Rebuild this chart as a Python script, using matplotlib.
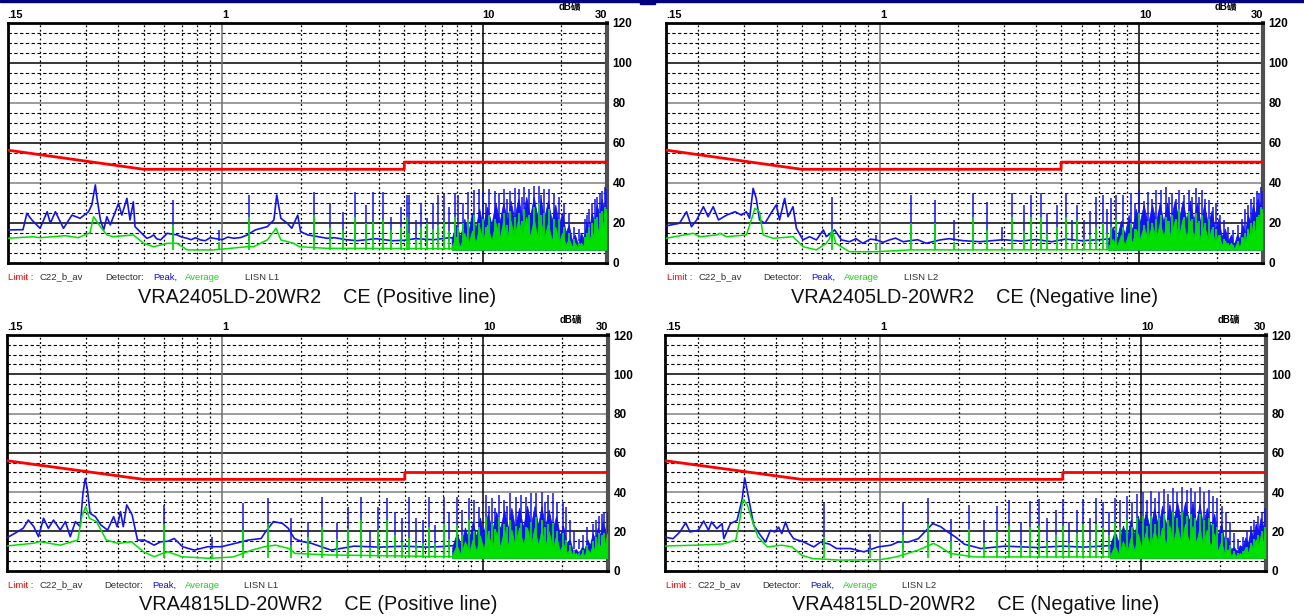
import matplotlib
matplotlib.use("Agg")
import matplotlib.pyplot as plt
from matplotlib.patches import Rectangle

# ---------------- data (MHz / dBuV) ----------------
lim1_f = [0.15, 0.5, 5.0, 5.0, 30.0]
lim1_db = [56.3, 46.7, 46.7, 50.3, 50.3]
lim3_db = [56.0, 46.5, 46.5, 50.0, 50.0]

# frequency grid of the dense part above ~7.5 MHz (envelope readings)
dense_f = [7.6, 7.9, 8.2, 8.5, 8.8, 9.1, 9.4, 9.7, 10.0, 10.4,
           10.8, 11.2, 11.6, 12.0, 12.4, 12.8, 13.2, 13.7, 14.2, 14.7,
           15.2, 15.7, 16.2, 16.7, 17.2, 17.8, 18.4, 19.0, 19.6, 20.2,
           20.8, 21.4, 22.0, 22.6, 23.2, 23.8, 24.4, 25.0, 25.6, 26.2,
           26.8, 27.4, 28.0, 28.6, 29.2, 29.8]

# panel 1: VRA2405LD-20WR2, L1
p1_pk_f = [0.15, 0.172, 0.178, 0.186, 0.200, 0.213, 0.219, 0.229, 0.246, 0.265,
           0.285, 0.307, 0.316, 0.326, 0.331, 0.341, 0.351, 0.361, 0.372, 0.389,
           0.400, 0.412, 0.431, 0.443, 0.456, 0.463, 0.484, 0.514, 0.53, 0.546,
           0.56, 0.580, 0.615, 0.671, 0.70, 0.734, 0.76, 0.79, 0.825, 0.86,
           0.90, 0.928, 1.0, 1.05, 1.11, 1.18, 1.25, 1.34, 1.49, 1.58,
           1.62, 1.68, 1.78, 1.85, 1.95, 2.00, 2.13, 2.53, 2.7, 3.0,
           3.3, 3.9, 4.5, 5.0, 5.5, 6.5, 7.5, 8.0]
p1_pk_db = [16.4, 16.5, 24.7, 21.4, 17.2, 25.5, 19.7, 25.5, 17.2, 23.8,
            22.2, 25.5, 28.9, 38.9, 32.0, 21.4, 16.4, 23.0, 18.9, 25.5,
            29.7, 23.8, 32.2, 21.4, 30.5, 18.0, 15.5, 12.2, 12.8, 13.9,
            12.0, 11.4, 14.7, 13.9, 12.8, 12.2, 11.5, 12.5, 11.4, 11.0,
            12.5, 12.2, 11.5, 12.8, 12.2, 12.6, 13.9, 16.4, 18.0, 21.4,
            33.9, 22.2, 19.7, 17.2, 23.8, 15.5, 13.9, 12.2, 12.5, 11.5,
            11.0, 12.0, 11.0, 11.2, 12.0, 11.5, 12.5, 12.0]
p1_av_f = [0.15, 0.188, 0.2, 0.25, 0.28, 0.311, 0.321, 0.341, 0.361, 0.382,
           0.456, 0.499, 0.546, 0.615, 0.671, 0.734, 0.928, 1.25, 1.32, 1.49,
           1.61, 1.68, 1.88, 1.98, 2.5, 8.0]
p1_av_db = [12.2, 13.0, 12.5, 13.5, 12.5, 15.0, 23.0, 18.0, 13.9, 13.0,
            13.9, 9.7, 8.0, 9.7, 9.7, 6.4, 6.4, 8.0, 8.0, 11.4,
            17.2, 11.4, 9.7, 8.0, 7.2, 7.0]
p1_sp_f = [0.646, 0.972, 1.27, 2.25, 2.59, 2.90, 3.24, 3.56, 3.78, 4.16,
           4.44, 4.85, 5.11, 5.22, 5.54, 5.79, 6.11, 6.43, 6.71, 7.12,
           7.44, 7.80, 8.03, 8.42, 8.76, 9.3, 9.7, 10.0, 10.3, 10.6,
           11.1, 11.6, 12.1, 12.4, 12.7, 13.3, 13.8, 14.1, 14.4, 15.1,
           15.8, 16.5, 16.8, 17.2, 18.0, 18.8, 19.7, 20.6, 21.5, 22.5,
           23.5, 24.6, 25.2, 25.7, 26.3, 26.9, 27.5, 28.1, 28.7, 29.4, 29.8]
p1_sp_pk = [31.4, 16.4, 33.9, 35.5, 29.7, 25.5, 35.5, 28.9, 35.5, 35.5,
            23.0, 28.0, 33.9, 33.9, 21.4, 29.7, 22.2, 30.0, 33.9, 34.7,
            28.0, 34.7, 33.9, 30.0, 35.5, 36.4, 37.0, 36.0, 30.0, 37.0,
            36.0, 35.0, 37.0, 32.0, 36.0, 37.5, 37.0, 33.0, 38.0, 37.0,
            38.5, 38.5, 34.0, 37.0, 37.0, 35.0, 33.0, 30.0, 25.0, 18.0,
            17.0, 22.0, 24.0, 27.0, 30.0, 32.0, 33.0, 35.0, 36.0, 38.0, 37.0]
p1_sp_av = [18.9, 10.5, 23.0, 23.8, 17.2, 16.4, 23.0, 19.7, 20.5, 21.4,
            16.4, 18.0, 23.0, 15.0, 12.0, 18.0, 20.0, 17.0, 18.9, 20.5,
            16.0, 23.0, 18.0, 20.0, 22.0, 24.0, 20.0, 22.0, 18.0, 24.0,
            22.0, 20.0, 25.0, 19.0, 26.0, 23.0, 25.0, 21.0, 27.0, 24.0,
            28.0, 30.0, 24.0, 25.0, 27.0, 22.0, 22.0, 18.0, 15.0, 12.0,
            10.0, 13.0, 15.0, 18.0, 20.0, 22.0, 23.0, 25.0, 26.0, 28.0, 27.0]
p1_band_pk = [12, 19, 13, 22, 15, 25, 17, 27, 18, 28,
              19, 30, 20, 30, 21, 31, 22, 32, 22, 33,
              23, 33, 23, 32, 22, 31, 21, 29, 19, 25,
              15, 19, 11, 14, 9, 15, 12, 20, 16, 25,
              20, 29, 24, 32, 27, 35]
p1_band_av = [8, 13, 8, 15, 9, 16, 10, 18, 11, 19,
              11, 20, 12, 21, 12, 21, 13, 22, 13, 23,
              13, 22, 13, 21, 12, 20, 11, 18, 10, 15,
              9, 12, 8, 10, 7, 10, 8, 13, 10, 16,
              12, 19, 14, 22, 17, 25]

# panel 2: VRA2405LD-20WR2, L2
p2_pk_f = [0.15, 0.169, 0.180, 0.188, 0.197, 0.209, 0.218, 0.228, 0.239, 0.257,
           0.277, 0.293, 0.306, 0.315, 0.325, 0.334, 0.344, 0.361, 0.377, 0.399,
           0.411, 0.430, 0.443, 0.463, 0.477, 0.506, 0.536, 0.570, 0.606, 0.622,
           0.670, 0.712, 0.764, 0.81, 0.860, 0.92, 0.970, 1.03, 1.09, 1.15,
           1.23, 1.40, 1.51, 1.71, 1.85, 2.1, 2.43, 3.0, 3.5, 4.0,
           4.6, 5.2, 6.0, 7.0, 8.0]
p2_pk_db = [18.4, 19.7, 25.5, 18.0, 21.4, 28.0, 23.0, 28.0, 21.4, 23.8,
            25.5, 23.8, 25.5, 22.2, 37.2, 32.2, 21.4, 19.7, 23.8, 28.9,
            21.4, 32.2, 23.0, 28.0, 17.2, 11.4, 13.0, 11.4, 16.4, 13.0,
            16.4, 11.4, 10.5, 12.0, 9.7, 11.8, 11.4, 10.2, 11.4, 12.3,
            10.5, 11.5, 9.7, 11.4, 12.0, 11.0, 10.5, 11.5, 10.8, 11.6,
            10.5, 11.8, 11.0, 11.5, 12.0]
p2_av_f = [0.15, 0.191, 0.203, 0.235, 0.242, 0.257, 0.306, 0.320, 0.330, 0.344,
           0.355, 0.388, 0.463, 0.506, 0.570, 0.622, 0.64, 0.655, 0.677, 0.764,
           0.970, 1.31, 2.4, 8.0]
p2_av_db = [12.2, 14.7, 13.0, 13.9, 14.7, 13.0, 13.9, 21.4, 27.2, 25.5,
            13.9, 12.2, 13.0, 8.0, 6.4, 9.7, 12.0, 16.4, 9.7, 5.5,
            5.5, 6.4, 6.4, 6.5]
p2_sp_f = [0.655, 0.97, 1.32, 1.63, 1.94, 2.29, 2.60, 2.95, 3.23, 3.59,
           3.83, 4.19, 4.43, 4.84, 5.20, 5.52, 5.78, 6.14, 6.47, 6.80,
           7.22, 7.50, 7.79, 8.15, 8.68, 9.27, 9.6, 10.0, 10.4, 10.8,
           11.2, 11.6, 12.1, 12.7, 13.0, 13.4, 13.8, 14.2, 14.9, 15.6,
           16.0, 16.5, 17.0, 17.5, 18.0, 18.6, 19.2, 19.7, 20.4, 21.2,
           22.0, 22.9, 24.1, 24.9, 25.6, 26.2, 26.9, 27.7, 28.5, 29.0, 29.4, 29.8]
p2_sp_pk = [33.0, 14.0, 33.9, 31.4, 21.4, 34.7, 30.5, 18.0, 34.7, 28.9,
            33.9, 34.7, 24.7, 28.9, 34.7, 21.4, 28.9, 21.4, 26.0, 33.0,
            33.9, 27.0, 32.2, 33.9, 34.0, 34.7, 30.0, 36.4, 31.0, 35.5,
            32.0, 36.4, 36.4, 38.0, 33.0, 34.7, 32.0, 36.4, 34.0, 36.4,
            33.0, 37.2, 33.0, 36.4, 32.0, 31.4, 28.0, 30.0, 24.0, 21.4,
            18.0, 16.4, 19.0, 22.0, 27.0, 29.0, 32.0, 33.0, 36.0, 35.0, 38.0, 36.0]
p2_sp_av = [16.4, 9.7, 19.7, 19.7, 10.5, 23.0, 16.4, 8.0, 23.0, 16.0,
            23.0, 23.0, 15.0, 18.0, 23.0, 10.0, 21.4, 12.0, 14.0, 18.0,
            20.0, 15.0, 18.0, 22.0, 18.0, 20.0, 17.0, 25.0, 19.0, 21.0,
            20.0, 22.0, 24.0, 23.0, 21.0, 24.0, 22.0, 27.0, 23.0, 26.0,
            22.0, 25.0, 21.0, 24.0, 20.0, 22.0, 18.0, 17.0, 14.0, 12.0,
            10.0, 9.0, 11.0, 13.0, 15.0, 17.0, 20.0, 21.0, 23.0, 24.0, 28.0, 27.0]
p2_band_pk = [11, 18, 12, 21, 14, 24, 16, 27, 19, 29,
              19, 29, 20, 30, 20, 30, 21, 31, 21, 31,
              21, 31, 21, 30, 20, 29, 19, 26, 16, 22,
              13, 17, 11, 14, 9, 14, 12, 19, 15, 24,
              20, 29, 24, 32, 28, 36]
p2_band_av = [8, 12, 8, 14, 9, 15, 10, 17, 11, 18,
              12, 19, 12, 20, 13, 21, 13, 21, 13, 22,
              13, 21, 13, 20, 12, 19, 11, 17, 10, 14,
              9, 11, 8, 10, 7, 10, 8, 13, 10, 16,
              12, 19, 15, 22, 18, 25]

# panel 3: VRA4815LD-20WR2, L1
p3_pk_f = [0.15, 0.161, 0.173, 0.181, 0.190, 0.198, 0.207, 0.216, 0.226, 0.240,
           0.251, 0.262, 0.274, 0.286, 0.293, 0.299, 0.305, 0.312, 0.327, 0.343,
           0.364, 0.384, 0.396, 0.408, 0.418, 0.431, 0.452, 0.474, 0.503, 0.549,
           0.581, 0.62, 0.655, 0.705, 0.782, 0.880, 0.991, 1.12, 1.26, 1.41,
           1.46, 1.57, 1.70, 1.79, 1.89, 2.0, 2.2, 2.61, 3.2, 4.0,
           5.0, 6.0, 7.0, 8.0]
p3_pk_db = [16.8, 19.1, 21.6, 25.8, 22.4, 17.3, 26.7, 21.6, 25.8, 20.7,
            25.0, 17.3, 25.0, 22.4, 39.4, 47.0, 41.0, 29.2, 27.5, 23.3,
            20.7, 27.5, 22.4, 30.1, 22.4, 33.5, 28.4, 15.6, 15.6, 13.0,
            14.7, 15.0, 16.4, 12.2, 10.5, 12.2, 12.2, 13.9, 15.6, 16.4,
            19.5, 25.0, 24.1, 21.6, 16.4, 15.0, 13.9, 10.5, 12.5, 12.0,
            12.5, 12.0, 12.3, 13.0]
p3_av_f = [0.15, 0.19, 0.20, 0.24, 0.28, 0.29, 0.30, 0.31, 0.33, 0.36,
           0.40, 0.45, 0.50, 0.55, 0.59, 0.62, 0.70, 0.90, 1.1, 1.3,
           1.45, 1.6, 1.8, 1.9, 2.6, 8.0]
p3_av_db = [12.6, 14.0, 14.8, 13.0, 15.6, 27.5, 32.6, 26.7, 25.0, 15.6,
            13.9, 14.7, 9.6, 7.1, 8.8, 9.6, 7.1, 6.3, 7.0, 10.5,
            12.2, 13.0, 11.3, 8.8, 8.0, 7.1]
p3_sp_f = [0.597, 0.914, 1.20, 1.50, 1.83, 2.13, 2.40, 2.74, 3.04, 3.40,
           3.68, 3.96, 4.26, 4.59, 4.88, 5.18, 5.51, 5.85, 6.19, 6.55,
           7.07, 7.37, 7.94, 8.3, 8.82, 9.23, 9.61, 10.2, 10.5, 10.8,
           11.1, 11.5, 12.0, 12.3, 12.7, 13.3, 13.9, 14.5, 15.2, 15.9,
           16.8, 17.2, 17.6, 18.4, 19.2, 20.1, 20.7, 21.5, 22.3, 23.2,
           24.0, 25.0, 26.2, 27.0, 27.8, 28.4, 29.0, 29.9]
p3_sp_pk = [33.5, 17.0, 34.3, 36.9, 26.7, 25.0, 37.7, 24.1, 32.6, 37.7,
            20.7, 32.6, 36.9, 30.1, 26.7, 37.7, 26.7, 26.0, 37.7, 23.3,
            37.7, 30.1, 37.7, 31.0, 36.9, 36.0, 32.6, 38.5, 33.0, 36.9,
            32.0, 38.5, 36.0, 33.0, 39.4, 37.7, 38.5, 37.7, 39.4, 39.4,
            40.3, 35.0, 38.5, 39.4, 35.0, 35.0, 32.6, 26.0, 20.0, 16.0,
            18.0, 22.0, 24.0, 26.0, 28.0, 29.0, 30.1, 30.1]
p3_sp_av = [24.0, 9.0, 20.7, 24.0, 13.0, 17.0, 22.4, 16.0, 21.0, 25.8,
            12.0, 20.7, 25.8, 18.0, 14.7, 16.4, 14.0, 14.0, 22.4, 14.0,
            24.0, 16.0, 23.3, 18.0, 25.8, 20.0, 22.0, 27.5, 20.0, 24.0,
            21.0, 27.5, 24.0, 22.0, 25.8, 23.0, 24.1, 22.0, 25.0, 27.5,
            25.8, 22.0, 24.0, 24.1, 20.0, 19.0, 15.6, 13.0, 10.0, 9.0,
            10.5, 13.0, 15.0, 17.0, 19.0, 18.0, 19.1, 18.4]
p3_band_pk = [12, 19, 13, 22, 15, 25, 17, 27, 19, 29,
              20, 30, 21, 31, 21, 32, 22, 32, 22, 33,
              23, 33, 23, 33, 22, 31, 21, 28, 18, 23,
              14, 16, 10, 11, 9, 12, 11, 16, 13, 19,
              16, 22, 18, 25, 20, 28]
p3_band_av = [8, 13, 8, 15, 9, 16, 10, 18, 11, 19,
              12, 20, 12, 21, 13, 21, 13, 22, 13, 22,
              13, 22, 13, 21, 12, 20, 11, 18, 10, 14,
              9, 11, 8, 9, 7, 9, 8, 11, 9, 13,
              10, 15, 12, 17, 13, 19]

# panel 4: VRA4815LD-20WR2, L2
p4_pk_f = [0.15, 0.161, 0.171, 0.180, 0.187, 0.201, 0.211, 0.220, 0.226, 0.237,
           0.248, 0.252, 0.267, 0.283, 0.296, 0.303, 0.310, 0.317, 0.328, 0.348,
           0.364, 0.380, 0.395, 0.408, 0.420, 0.434, 0.448, 0.466, 0.510, 0.557,
           0.591, 0.640, 0.680, 0.768, 0.866, 0.980, 1.10, 1.17, 1.28, 1.40,
           1.48, 1.59, 1.71, 1.80, 1.95, 2.10, 2.43, 3.0, 4.0, 5.0,
           6.0, 7.0, 8.0]
p4_pk_db = [17.1, 16.3, 19.7, 24.4, 19.7, 20.6, 25.3, 20.6, 24.8, 21.4,
            24.0, 16.3, 24.0, 25.6, 36.2, 47.2, 40.4, 33.6, 23.1, 18.0,
            14.6, 20.6, 19.7, 22.2, 18.9, 24.8, 19.7, 16.3, 14.6, 12.1,
            14.6, 13.5, 11.3, 11.3, 9.6, 12.1, 13.0, 14.6, 14.6, 16.3,
            19.7, 24.0, 22.3, 20.0, 17.0, 13.5, 11.3, 12.5, 11.8, 12.5,
            12.0, 12.5, 13.0]
p4_av_f = [0.15, 0.2, 0.25, 0.28, 0.29, 0.298, 0.31, 0.32, 0.34, 0.37,
           0.42, 0.46, 0.50, 0.55, 0.7, 1.0, 1.15, 1.4, 1.6, 1.7,
           1.85, 2.3, 8.0]
p4_av_db = [12.6, 13.0, 13.6, 15.6, 25.8, 36.2, 33.6, 27.5, 17.3, 12.1,
            13.0, 12.1, 7.9, 6.2, 5.4, 5.6, 7.0, 10.5, 13.9, 12.1,
            8.8, 7.0, 7.0]
p4_sp_f = [0.608, 0.914, 1.22, 1.53, 1.86, 2.18, 2.50, 2.80, 3.10, 3.45,
           3.75, 4.05, 4.35, 4.70, 5.00, 5.30, 5.65, 6.00, 6.35, 6.70,
           7.10, 7.50, 7.90, 8.3, 8.8, 9.2, 9.6, 10.1, 10.5, 10.9,
           11.3, 11.7, 12.2, 12.7, 13.2, 13.7, 14.3, 14.9, 15.5, 16.1,
           16.7, 17.4, 18.1, 18.8, 19.5, 20.3, 21.0, 21.8, 22.6, 23.5,
           24.4, 25.3, 26.2, 27.1, 28.0, 28.9, 29.7]
p4_sp_pk = [34.5, 18.9, 34.5, 37.1, 26.5, 33.6, 26.0, 33.0, 36.0, 25.0,
            35.5, 36.5, 27.0, 31.0, 36.5, 25.0, 31.0, 36.5, 27.0, 37.0,
            35.0, 30.0, 37.0, 36.0, 38.0, 35.0, 39.0, 40.0, 36.0, 40.5,
            37.0, 40.0, 41.5, 39.0, 42.0, 40.0, 42.5, 41.0, 42.0, 40.0,
            42.5, 40.0, 41.0, 38.0, 37.0, 33.0, 30.0, 25.0, 19.0, 16.0,
            17.0, 20.0, 23.0, 26.0, 28.0, 30.0, 32.0]
p4_sp_av = [17.0, 11.0, 18.0, 24.0, 15.0, 21.4, 14.0, 20.0, 23.0, 13.0,
            22.0, 23.0, 15.0, 18.0, 23.0, 14.0, 19.0, 24.0, 15.0, 24.0,
            22.0, 18.0, 25.0, 22.0, 26.0, 22.0, 27.0, 28.0, 23.0, 28.0,
            24.0, 27.0, 29.0, 26.0, 30.0, 27.0, 30.0, 28.0, 29.0, 27.0,
            29.0, 26.0, 27.0, 24.0, 22.0, 19.0, 16.0, 13.0, 10.0, 9.0,
            10.0, 12.0, 14.0, 16.0, 18.0, 20.0, 22.0]
p4_band_pk = [13, 20, 14, 23, 16, 26, 18, 28, 20, 30,
              21, 32, 22, 33, 23, 34, 24, 35, 25, 35,
              25, 35, 24, 34, 23, 32, 22, 29, 18, 24,
              15, 17, 11, 12, 10, 13, 12, 17, 14, 21,
              17, 24, 20, 27, 22, 30]
p4_band_av = [8, 13, 8, 15, 9, 17, 10, 19, 11, 20,
              12, 21, 13, 22, 13, 23, 14, 23, 14, 24,
              14, 23, 14, 22, 13, 21, 12, 19, 10, 15,
              9, 11, 8, 9, 7, 9, 8, 12, 9, 14,
              11, 16, 12, 18, 14, 20]

PK_FLOOR = 11.0
AV_FLOOR = 6.5

titles = ["VRA2405LD-20WR2    CE (Positive line)",
          "VRA2405LD-20WR2    CE (Negative line)",
          "VRA4815LD-20WR2    CE (Positive line)",
          "VRA4815LD-20WR2    CE (Negative line)"]
lisn = ["LISN L1", "LISN L2", "LISN L1", "LISN L2"]

W, H = 1304, 616
# pixel boxes: left, right, top, bottom
boxes = [(7.5, 607, 22.7, 262.7), (666, 1263, 22.7, 262.7),
         (7, 608, 335, 570.7), (665, 1266, 335, 570.7)]
cap_xy = [(317, 297), (975, 297), (318, 605), (976, 605)]

panels = [
    (p1_pk_f, p1_pk_db, p1_av_f, p1_av_db, p1_sp_f, p1_sp_pk, p1_sp_av,
     p1_band_pk, p1_band_av, lim1_db),
    (p2_pk_f, p2_pk_db, p2_av_f, p2_av_db, p2_sp_f, p2_sp_pk, p2_sp_av,
     p2_band_pk, p2_band_av, lim1_db),
    (p3_pk_f, p3_pk_db, p3_av_f, p3_av_db, p3_sp_f, p3_sp_pk, p3_sp_av,
     p3_band_pk, p3_band_av, lim3_db),
    (p4_pk_f, p4_pk_db, p4_av_f, p4_av_db, p4_sp_f, p4_sp_pk, p4_sp_av,
     p4_band_pk, p4_band_av, lim3_db),
]

BLUE = "#1414f0"
GREEN = "#00e000"
RED = "#ff0000"
minor_f = [0.2, 0.3, 0.4, 0.5, 0.6, 0.7, 0.8, 0.9, 2, 3, 4, 5, 6, 7, 8, 9, 20]

fig = plt.figure(figsize=(W / 100, H / 100), dpi=100)
fig.patches.append(Rectangle((0, 1 - 2.2 / H), 1, 2.2 / H, transform=fig.transFigure,
                             color="#000080", zorder=10))
fig.patches.append(Rectangle((640 / W, 1 - 4 / H), 15 / W, 4 / H, transform=fig.transFigure,
                             color="#000080", zorder=10))

for i, (pk_f, pk_db, av_f, av_db, sp_f, sp_pk, sp_av, b_pk, b_av, lim_db) in enumerate(panels):
    l, r, t, b = boxes[i]
    ax = fig.add_axes([l / W, 1 - b / H, (r - l) / W, (b - t) / H])
    ax.set_xscale("log")
    ax.set_xlim(0.15, 30)
    ax.set_ylim(0, 120)

    # grid
    for v in range(5, 120, 5):
        if v % 20:
            ax.axhline(v, color="black", lw=0.8, dashes=(3, 2.2), zorder=1)
        else:
            c = "#808080" if v in (40, 80) else "black"
            ax.axhline(v, color=c, lw=1.1, zorder=1)
    for f in minor_f:
        ax.axvline(f, color="black", lw=0.9, dashes=(1.5, 2), zorder=1)
    ax.axvline(1, color="#707070", lw=1.1, zorder=1)
    ax.axvline(10, color="black", lw=1.1, zorder=1)

    # peak detector (blue), then average detector (green) on top
    ax.fill_between(dense_f, AV_FLOOR, b_pk, color=BLUE, lw=0.6, zorder=2)
    ax.vlines(sp_f, PK_FLOOR, sp_pk, color=BLUE, lw=1.1, zorder=3)
    ax.plot(pk_f, pk_db, color=BLUE, lw=1.2, zorder=3)
    ax.fill_between(dense_f, AV_FLOOR, b_av, color=GREEN, lw=0.6, zorder=4)
    ax.vlines(sp_f, AV_FLOOR, sp_av, color=GREEN, lw=1.3, zorder=4)
    ax.plot(av_f, av_db, color=GREEN, lw=1.1, zorder=4)
    ax.plot(lim1_f, lim_db, color=RED, lw=2.0, zorder=5)

    # axes frame and labels
    for s in ("left", "top", "bottom"):
        ax.spines[s].set_linewidth(2.0)
        ax.spines[s].set_color("black")
    ax.spines["right"].set_linewidth(3.0)
    ax.spines["right"].set_color("#505050")
    ax.set_xticks([])
    ax.xaxis.set_minor_locator(matplotlib.ticker.NullLocator())
    ax.yaxis.tick_right()
    ax.set_yticks(range(0, 121, 20))
    ax.tick_params(axis="y", length=0, pad=4, labelsize=8.5)
    for lab in ax.get_yticklabels():
        lab.set_fontweight("bold")
        lab.set_fontfamily("Liberation Sans")

    xt = ax.get_xaxis_transform()
    ph = b - t
    ytop = 1 + 8 / ph
    for fx, s, ha in ((0.15, ".15", "left"), (1.0, "1", "left"),
                      (10.0, "10", "left"), (30.0, "30", "right")):
        ax.text(fx, ytop, s, transform=xt, ha=ha, va="center",
                fontsize=8, fontweight="bold", family="Liberation Sans")
    ax.text(19.5, 1 + 15 / ph, "dB礦", transform=xt, ha="left", va="center",
            fontsize=7, fontweight="bold", family=["Liberation Sans", "Noto Sans CJK SC"])

    # detector legend line under the plot
    yl = -14.5 / ph
    pw = r - l
    leg = [(0.5, "Limit :", RED), (32.5, "C22_b_av", "#303030"),
           (97.5, "Detector:", "#303030"), (145.5, "Peak,", "#1010e0"),
           (177.5, "Average", "#20d020"), (237.5, lisn[i], "#303030")]
    for xo, s, c in leg:
        ax.text(xo / pw, yl, s, transform=ax.transAxes, ha="left", va="center",
                fontsize=6.8, color=c, family="Liberation Sans")

    cx, cy = cap_xy[i]
    fig.text(cx / W, 1 - cy / H, titles[i], ha="center", va="center",
             fontsize=14.3, family="Liberation Sans", color="#111111")

fig.savefig("out.png", dpi=100)
